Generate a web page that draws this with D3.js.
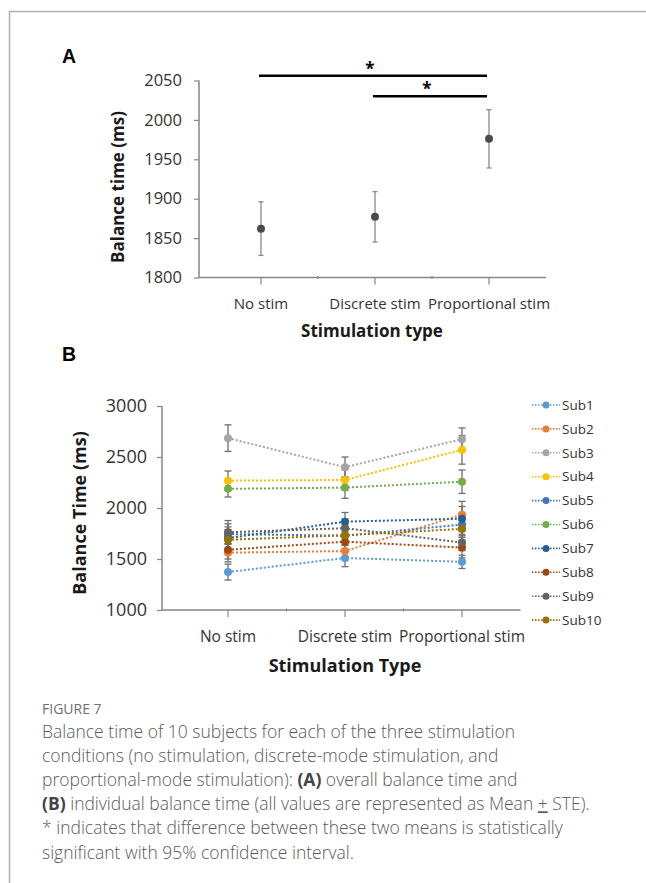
<!DOCTYPE html>
<html>
<head>
<meta charset="utf-8">
<script src="https://cdn.jsdelivr.net/npm/d3@7"></script>
<style>
  body { margin: 0; background: #fff; }
  #canvas { width: 646px; height: 883px; }
</style>
</head>
<body>
<div id="canvas"></div>
<script>
// ---- data ----
const categories = ['No stim', 'Discrete stim', 'Proportional stim'];
const meanA = [1862, 1877, 1976];
const steA = [34, 32, 37];
const ticksA = [1800, 1850, 1900, 1950, 2000, 2050];
const sigPairs = [[0, 2, 2056], [1, 2, 2030]];

const subjects = ['Sub1', 'Sub2', 'Sub3', 'Sub4', 'Sub5', 'Sub6', 'Sub7', 'Sub8', 'Sub9', 'Sub10'];
const subMeans = [
    [1372, 1510, 1472],
    [1562, 1578, 1935],
    [2685, 2400, 2675],
    [2268, 2275, 2570],
    [1745, 1728, 1838],
    [2188, 2200, 2258],
    [1705, 1866, 1895],
    [1590, 1670, 1612],
    [1762, 1802, 1662],
    [1688, 1733, 1795]
];
const subSte = [
    [78, 85, 65],
    [90, 90, 130],
    [130, 100, 110],
    [95, 100, 140],
    [100, 90, 110],
    [80, 105, 115],
    [110, 90, 120],
    [90, 90, 100],
    [115, 90, 80],
    [100, 100, 110]
];
const ticksB = [1000, 1500, 2000, 2500, 3000];
const subColors = ['#5b9bd5', '#ed7d31', '#a5a5a5', '#ffc000', '#4472c4',
    '#70ad47', '#255e91', '#9e480e', '#636363', '#997300'];

const captionLines = [
    'Balance time of 10 subjects for each of the three stimulation',
    'conditions (no stimulation, discrete-mode stimulation, and'
];

// ---- setup ----
const w = 646,
    h = 883,
    axisCol = '#868686',
    textCol = '#333333',
    font = '"Open Sans", sans-serif',
    svg = d3.select('#canvas').append('svg')
        .attr('width', w)
        .attr('height', h);

svg.append('rect').attr('width', w).attr('height', h).attr('fill', '#fff');

// frame
svg.append('path')
    .attr('d', 'M9.5,' + h + 'V11.5H' + w)
    .attr('fill', 'none')
    .attr('stroke', '#b0b0b0')
    .attr('stroke-width', 1.5);

function styleAxis(g) {
    g.select('.domain').remove();
    g.selectAll('line').attr('stroke', axisCol).attr('stroke-width', 1.2);
    g.selectAll('text')
        .attr('fill', textCol)
        .attr('font-family', font);
}

// x axis drawn by hand so it runs from the y axis
function xAxis(g, x, y0, x0, fontSize, labelY) {
    g.append('line')
        .attr('x1', x0).attr('x2', x.range()[1])
        .attr('y1', y0).attr('y2', y0)
        .attr('stroke', axisCol).attr('stroke-width', 1.5);
    g.selectAll('.ctick').data(categories).join('line')
        .attr('x1', d => x(d) + x.bandwidth() / 2)
        .attr('x2', d => x(d) + x.bandwidth() / 2)
        .attr('y1', y0).attr('y2', y0 + 7)
        .attr('stroke', axisCol).attr('stroke-width', 1.2);
    g.selectAll('.btick').data(categories.slice(1)).join('line')
        .attr('x1', d => x(d)).attr('x2', d => x(d))
        .attr('y1', y0 - 1.5).attr('y2', y0 + 1.5)
        .attr('stroke', axisCol).attr('stroke-width', 1.2);
    g.selectAll('.clab').data(categories).join('text')
        .attr('x', d => x(d) + x.bandwidth() / 2)
        .attr('y', labelY)
        .attr('text-anchor', 'middle')
        .attr('font-family', font)
        .attr('font-size', fontSize)
        .attr('fill', textCol)
        .text(d => d);
}

// =================== Panel A ===================
const xA = d3.scaleBand().domain(categories).range([204, 546]),
    yA = d3.scaleLinear().domain([1800, 2050]).range([277.5, 80.5]),
    cxA = d => xA(d) + xA.bandwidth() / 2;

svg.append('text')
    .attr('x', 62).attr('y', 63)
    .attr('font-family', '"Liberation Sans", Arial, sans-serif')
    .attr('font-weight', 700)
    .attr('font-size', 19.5)
    .text('A');

svg.append('g')
    .attr('transform', 'translate(199,0)')
    .call(d3.axisLeft(yA).tickValues(ticksA).tickFormat(d3.format('d')).tickSize(5).tickPadding(12))
    .call(styleAxis)
    .call(g => g.selectAll('text').attr('font-size', 16.5))
    .call(g => g.append('line')
        .attr('y1', yA(1800)).attr('y2', yA(2050))
        .attr('stroke', axisCol).attr('stroke-width', 1.5));

svg.append('g').call(xAxis, xA, yA(1800), 199, 15, 308.5);

svg.append('text')
    .attr('x', 372).attr('y', 337)
    .attr('text-anchor', 'middle')
    .attr('font-family', font)
    .attr('font-weight', 700)
    .attr('font-size', 17)
    .attr('fill', '#1a1a1a')
    .text('Stimulation type');

svg.append('text')
    .attr('transform', 'translate(124,187)rotate(-90)')
    .attr('text-anchor', 'middle')
    .attr('font-family', font)
    .attr('font-weight', 700)
    .attr('font-size', 17)
    .attr('fill', '#1a1a1a')
    .text('Balance time (ms)');

const gA = svg.append('g');
gA.selectAll('.err').data(categories).join('g')
    .each(function (d, i) {
        const g = d3.select(this),
            x = cxA(d);
        g.append('line')
            .attr('x1', x).attr('x2', x)
            .attr('y1', yA(meanA[i] + steA[i])).attr('y2', yA(meanA[i] - steA[i]))
            .attr('stroke', '#8a8a8a').attr('stroke-width', 1.3);
        [meanA[i] + steA[i], meanA[i] - steA[i]].forEach(v => {
            g.append('line')
                .attr('x1', x - 2.5).attr('x2', x + 2.5)
                .attr('y1', yA(v)).attr('y2', yA(v))
                .attr('stroke', '#8a8a8a').attr('stroke-width', 1.3);
        });
    });
gA.selectAll('circle').data(categories).join('circle')
    .attr('cx', d => cxA(d))
    .attr('cy', (d, i) => yA(meanA[i]))
    .attr('r', 4)
    .attr('fill', '#4a4a4a');

// significance bars
sigPairs.forEach(p => {
    const x1 = cxA(categories[p[0]]) - 2,
        x2 = cxA(categories[p[1]]) - 2,
        y = yA(p[2]);
    svg.append('line')
        .attr('x1', x1).attr('x2', x2)
        .attr('y1', y).attr('y2', y)
        .attr('stroke', '#000').attr('stroke-width', 2.6);
    svg.append('text')
        .attr('x', (x1 + x2) / 2 - 3).attr('y', y - 1)
        .attr('text-anchor', 'middle')
        .attr('font-family', font)
        .attr('font-weight', 700)
        .attr('font-size', 17)
        .text('*');
});

// =================== Panel B ===================
const xB = d3.scaleBand().domain(categories).range([169.5, 520.5]),
    yB = d3.scaleLinear().domain([1000, 3000]).range([610, 406]),
    cxB = d => xB(d) + xB.bandwidth() / 2;

svg.append('text')
    .attr('x', 62).attr('y', 361)
    .attr('font-family', '"Liberation Sans", Arial, sans-serif')
    .attr('font-weight', 700)
    .attr('font-size', 19.5)
    .text('B');

svg.append('g')
    .attr('transform', 'translate(162,0)')
    .call(d3.axisLeft(yB).tickValues(ticksB).tickFormat(d3.format('d')).tickSize(5).tickPadding(10))
    .call(styleAxis)
    .call(g => g.selectAll('text').attr('font-size', 18))
    .call(g => g.append('line')
        .attr('y1', yB(1000)).attr('y2', yB(3000))
        .attr('stroke', axisCol).attr('stroke-width', 1.5));

svg.append('g').call(xAxis, xB, yB(1000), 162, 15.5, 642);

svg.append('text')
    .attr('x', 345).attr('y', 672)
    .attr('text-anchor', 'middle')
    .attr('font-family', font)
    .attr('font-weight', 700)
    .attr('font-size', 18)
    .attr('fill', '#1a1a1a')
    .text('Stimulation Type');

svg.append('text')
    .attr('transform', 'translate(86,513)rotate(-90)')
    .attr('text-anchor', 'middle')
    .attr('font-family', font)
    .attr('font-weight', 700)
    .attr('font-size', 18)
    .attr('fill', '#1a1a1a')
    .text('Balance Time (ms)');

const line = d3.line()
    .x((d, i) => cxB(categories[i]))
    .y(d => yB(d));

const gB = svg.append('g');
// error bars first
subjects.forEach((s, k) => {
    categories.forEach((c, i) => {
        const x = cxB(c),
            hi = subMeans[k][i] + subSte[k][i],
            lo = subMeans[k][i] - subSte[k][i];
        gB.append('line')
            .attr('x1', x).attr('x2', x)
            .attr('y1', yB(hi)).attr('y2', yB(lo))
            .attr('stroke', '#6e6e6e').attr('stroke-width', 1.3);
        [hi, lo].forEach(v => gB.append('line')
            .attr('x1', x - 3.5).attr('x2', x + 3.5)
            .attr('y1', yB(v)).attr('y2', yB(v))
            .attr('stroke', '#6e6e6e').attr('stroke-width', 1.3));
    });
});
subjects.forEach((s, k) => {
    gB.append('path')
        .attr('d', line(subMeans[k]))
        .attr('fill', 'none')
        .attr('stroke', subColors[k])
        .attr('stroke-width', 2)
        .attr('stroke-dasharray', '2,2');
    gB.selectAll('.pt' + k).data(subMeans[k]).join('circle')
        .attr('cx', (d, i) => cxB(categories[i]))
        .attr('cy', d => yB(d))
        .attr('r', 4)
        .attr('fill', subColors[k]);
});

// legend
const leg = svg.append('g').selectAll('g').data(subjects).join('g')
    .attr('transform', (d, i) => 'translate(532,' + (405 + i * 23.9) + ')');
leg.append('line')
    .attr('x1', 0).attr('x2', 28)
    .attr('stroke', (d, i) => subColors[i])
    .attr('stroke-width', 1.6)
    .attr('stroke-dasharray', '1.5,1.5');
leg.append('circle')
    .attr('cx', 14).attr('r', 3.5)
    .attr('fill', (d, i) => subColors[i]);
leg.append('text')
    .attr('x', 30).attr('dy', '0.35em')
    .attr('font-family', font)
    .attr('font-size', 13.5)
    .attr('fill', textCol)
    .text(d => d);

// =================== Caption ===================
svg.append('text')
    .attr('x', 42).attr('y', 714)
    .attr('font-family', font)
    .attr('font-size', 14)
    .attr('fill', '#707070')
    .text('FIGURE 7');

const cap = svg.append('text')
    .attr('font-family', font)
    .attr('font-size', 17.5)
    .attr('font-weight', 300)
    .attr('fill', '#5a5a5a');
const capX = 42, capY0 = 738, capDy = 24.1;
captionLines.forEach((t, i) => {
    cap.append('tspan').attr('x', capX).attr('y', capY0 + i * capDy).text(t);
});
cap.append('tspan').attr('x', capX).attr('y', capY0 + 2 * capDy)
    .text('proportional-mode stimulation): ');
cap.append('tspan').attr('font-weight', 700).attr('fill', '#444').text('(A)');
cap.append('tspan').text(' overall balance time and');
cap.append('tspan').attr('x', capX).attr('y', capY0 + 3 * capDy)
    .attr('font-weight', 700).attr('fill', '#444').text('(B)');
cap.append('tspan').text(' individual balance time (all values are represented as Mean ');
cap.append('tspan').attr('text-decoration', 'underline').text('+');
cap.append('tspan').text(' STE).');
cap.append('tspan').attr('x', capX).attr('y', capY0 + 4 * capDy)
    .text('* indicates that difference between these two means is statistically');
cap.append('tspan').attr('x', capX).attr('y', capY0 + 5 * capDy)
    .text('significant with 95% confidence interval.');
</script>
</body>
</html>
